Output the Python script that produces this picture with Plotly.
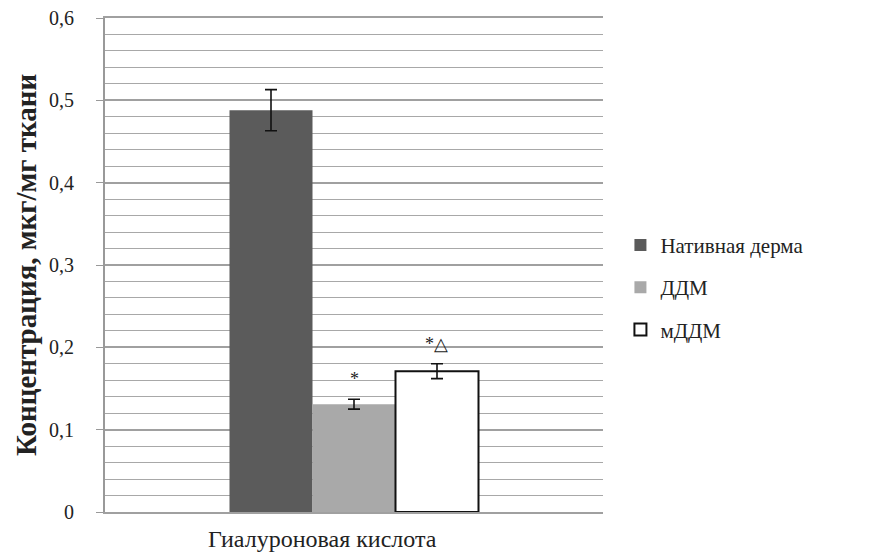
import plotly.graph_objects as go

categories = ["Гиалуроновая кислота"]
series_names = ["Нативная дерма", "ДДМ", "мДДМ"]
values = [0.488, 0.131, 0.171]
errors = [0.025, 0.006, 0.009]
sig_labels = ["", "*", "*△"]
y_ticks = [0, 0.1, 0.2, 0.3, 0.4, 0.5, 0.6]

SERIF = "Times New Roman, Liberation Serif, serif"
fills = ["#5b5b5b", "#a9a9a9", "#ffffff"]
lines = ["#5b5b5b", "#a9a9a9", "#111111"]

fig = go.Figure()
for i, name in enumerate(series_names):
    fig.add_trace(go.Bar(
        x=categories, y=[values[i]], name=name,
        marker=dict(color=fills[i], line=dict(color=lines[i], width=2 if i == 2 else 0)),
        error_y=dict(type="data", array=[errors[i]], color="#111111", thickness=1.6, width=6),
        legendgroup=name,
    ))

bar_px = 82.5
for i, lab in enumerate(sig_labels):
    if lab:
        fig.add_annotation(x=categories[0], y=values[i] + errors[i], yanchor="bottom",
                           xshift=(i - 1) * bar_px, yshift=8, text=lab, showarrow=False,
                           font=dict(family=SERIF, size=18, color="#222"))

# category label sits a little left of the category centre in the reference
fig.add_annotation(xref="paper", yref="paper", x=0.436, y=0, yanchor="top", yshift=-12,
                   text=categories[0], showarrow=False,
                   font=dict(family=SERIF, size=24, color="#222"))

# page body has an 8px margin, so the figure is placed to land on the reference pixels
fig.update_layout(
    width=878, height=552,
    margin=dict(l=97, r=283, t=10, b=48),
    paper_bgcolor="white", plot_bgcolor="white",
    separators=", ",
    barmode="group", bargap=0.5, bargroupgap=0,
    font=dict(family=SERIF, color="#222"),
    legend=dict(x=1.035, y=0.455, xanchor="left", yanchor="middle",
                font=dict(size=21, family=SERIF, color="#222"),
                tracegroupgap=12, itemwidth=30),
    showlegend=True,
)
fig.update_yaxes(range=[0, 0.6], tickvals=y_ticks, ticks="outside", ticklen=7,
                 tickcolor="#999", tickfont=dict(size=20, family=SERIF, color="#222"),
                 ticklabelstandoff=18, ticklabeloverflow="allow",
                 showgrid=True, gridcolor="#a0a0a0", gridwidth=1.6,
                 minor=dict(dtick=0.02, showgrid=True, gridcolor="#a8a8a8", gridwidth=1.4),
                 showline=True, linecolor="#999", linewidth=2, automargin=False,
                 title=dict(text="<b>Концентрация, мкг/мг ткани</b>", standoff=4,
                            font=dict(size=29, family=SERIF, color="#222")))
fig.update_xaxes(showline=True, mirror=True, linecolor="#a0a0a0", linewidth=2, ticks="",
                 automargin=False, showticklabels=False)

fig.write_html("out.html")
